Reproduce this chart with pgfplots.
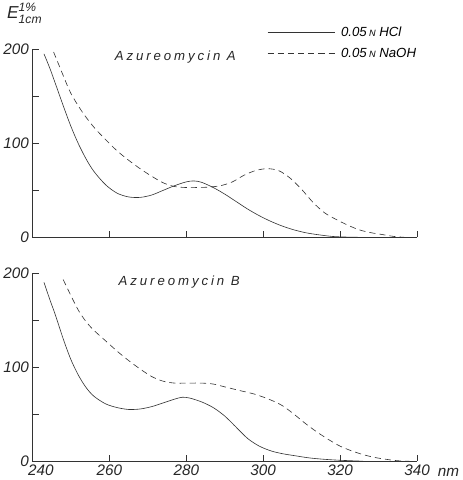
\documentclass[border=0pt]{standalone}
\usepackage{pgfplots}
\pgfplotsset{compat=1.18}
\usepackage{fontspec}
\usepackage{amsmath}
\setmainfont{Liberation Sans}
\newfontfamily\spaced[LetterSpace=22]{Liberation Sans}

\pgfplotsset{
  spec/.style={
    width=378pt, height=185pt, scale only axis,
    xmin=240, xmax=340, ymin=0, ymax=200,
    axis x line=bottom, axis y line=left,
    axis line style={-, line width=0.6pt, black!80},
    xtick={240,260,...,340},
    ytick={0,50,...,200},
    yticklabels={0,,100,,200},
    tick align=inside,
    major tick length=6pt,
    tick style={line width=0.6pt, black!80},
    every tick label/.append style={font=\fontsize{15}{15}\selectfont\itshape, black!85},
    clip=false,
  },
  hcl/.style={line width=0.6pt, black!80, smooth},
  naoh/.style={line width=0.6pt, black!80, smooth, dash pattern=on 6pt off 4pt},
}

\begin{document}
\begin{tikzpicture}
% top panel: Azureomycin A
\begin{axis}[spec, at={(0pt,220pt)},
    xticklabels={},
    legend style={draw=none, fill=none, inner sep=0pt, at={(0.61,1.13)}, anchor=north west,
      font=\fontsize{13}{15}\selectfont\itshape, row sep=6pt, column sep=4pt,
      legend cell align=left},
    legend image code/.code={\draw[#1] (0pt,0pt) -- (66pt,0pt);},
  ]
  \addplot[hcl] coordinates {
    (243,195) (244.5,180) (246,163) (248,140) (250,118) (252,99) (254,83) (256,70)
    (259,56) (262,47) (265,43) (268,42.5) (271,45) (274,50) (277,55) (280,59)
    (282,60) (284,58.5) (287,53) (290,46) (293,38) (296,30) (299,23) (302,17)
    (305,12) (308,8) (311,5) (314,3) (318,1) (322,0.3) (326,0)
  };
  \addlegendentry{0.05\,{\small N} HCl}
  \addplot[naoh] coordinates {
    (245.5,197) (248,172) (250,153) (253,133) (256,117) (259,104) (262,92) (265,82)
    (268,73) (271,65) (274,58) (277,54) (280,53) (283,53) (286,53.5) (289,55)
    (292,59) (295,66) (298,71) (301,73) (304,71) (307,63) (310,51) (313,37)
    (316,26) (319,19) (322,13) (325,8) (328,5) (331,3) (334,1) (337,0)
  };
  \addlegendentry{0.05\,{\small N} NaOH}
  \node[anchor=west, font=\fontsize{13}{15}\spaced\itshape, black!85] at (rel axis cs:0.205,0.96) {Azureomycin A};
  \node[anchor=west, font=\fontsize{17}{17}\selectfont, black!85] at (rel axis cs:-0.075,1.19)
    {$\text{\itshape E}^{\text{\itshape 1\%}}_{\text{\itshape 1cm}}$};
\end{axis}
% bottom panel: Azureomycin B
\begin{axis}[spec, at={(0pt,0pt)},
    xticklabels={\phantom{00}240,260,280,300,320,340},
  ]
  \addplot[hcl] coordinates {
    (243,190) (244.5,172) (246,155) (248,130) (250,108) (252,91) (254,78) (256,69)
    (259,61) (262,57) (265,55) (268,55.5) (271,58) (274,62) (277,66) (279,68)
    (281,67) (284,63) (287,57) (290,48) (293,36) (296,24) (299,16) (302,11)
    (305,8) (308,6) (312,3.5) (316,2) (320,1) (326,0)
  };
  \addplot[naoh] coordinates {
    (248,193) (250,176) (252,160) (254,148) (256,139) (259,128) (262,117) (265,107)
    (268,98) (271,90) (274,85) (277,83) (280,83) (284,83) (287,82) (290,79)
    (294,75) (298,71) (302,65) (305,59) (308,50) (311,40) (314,31) (317,23)
    (320,16) (323,11) (326,7) (329,4) (332,2) (335,0.5) (338,0)
  };
  \node[anchor=west, font=\fontsize{13}{15}\spaced\itshape, black!85] at (rel axis cs:0.215,0.95) {Azureomycin B};
  \node[anchor=west, font=\fontsize{15}{15}\selectfont\itshape, black!85] at (rel axis cs:1.045,-0.06) {nm};
\end{axis}
\end{tikzpicture}
\end{document}
